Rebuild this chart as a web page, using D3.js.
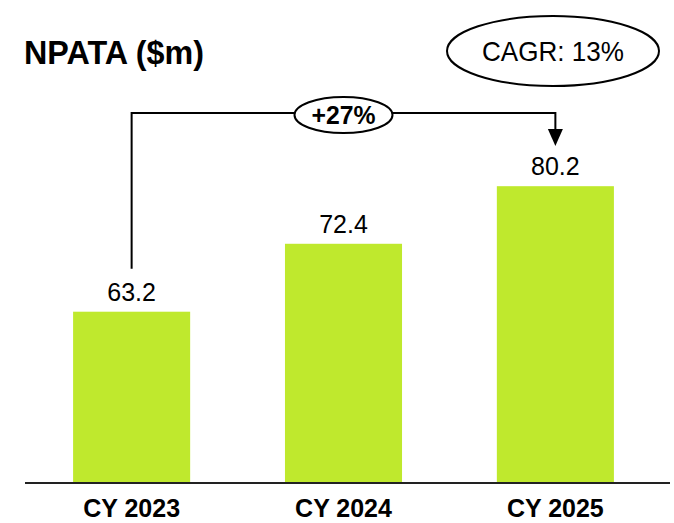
<!DOCTYPE html>
<html>
<head>
<meta charset="utf-8">
<script src="https://cdn.jsdelivr.net/npm/d3@7"></script>
<style>
  body { margin: 0; background: #fff; }
  text { font-family: Arial, "Liberation Sans", sans-serif; fill: #000; }
</style>
</head>
<body>
<div id="chart"></div>
<script>
// Data
var categories = ['CY 2023', 'CY 2024', 'CY 2025'];
var values = [63.2, 72.4, 80.2];
var title = 'NPATA ($m)';
var cagrLabel = 'CAGR: 13%';
var growthLabel = '+27%';

var width = 674, height = 523;
var baseY = 483;

var svg = d3.select('#chart').append('svg')
  .attr('width', width)
  .attr('height', height);

// Scales (value axis does not start at zero)
var x = d3.scaleBand()
  .domain(categories)
  .range([25, 662])
  .paddingInner(0.4475)
  .paddingOuter(0.227);

var y = d3.scaleLinear()
  .domain([40, 100])
  .range([baseY, 40]);

// Title (narrow, tall lettering)
svg.append('text')
  .attr('x', 24)
  .attr('y', 64)
  .attr('textLength', 180)
  .attr('lengthAdjust', 'spacingAndGlyphs')
  .style('font-size', '33px')
  .style('font-weight', 'bold')
  .text(title);

// Bars
svg.selectAll('.bar')
  .data(values)
  .enter()
  .append('rect')
  .attr('class', 'bar')
  .attr('x', function(d, i) { return x(categories[i]); })
  .attr('y', function(d) { return y(d); })
  .attr('width', x.bandwidth())
  .attr('height', function(d) { return baseY - y(d); })
  .style('fill', '#bfe92d');

// Value labels
svg.selectAll('.val')
  .data(values)
  .enter()
  .append('text')
  .attr('class', 'val')
  .attr('x', function(d, i) { return x(categories[i]) + x.bandwidth() / 2; })
  .attr('y', function(d) { return y(d) - 11; })
  .attr('text-anchor', 'middle')
  .style('font-size', '25px')
  .text(function(d) { return d.toFixed(1); });

// Baseline
svg.append('line')
  .attr('x1', 25)
  .attr('x2', 670)
  .attr('y1', baseY)
  .attr('y2', baseY)
  .style('stroke', '#222')
  .style('stroke-width', 2);

// Category labels
svg.selectAll('.cat')
  .data(categories)
  .enter()
  .append('text')
  .attr('class', 'cat')
  .attr('x', function(d) { return x(d) + x.bandwidth() / 2; })
  .attr('y', 517)
  .attr('text-anchor', 'middle')
  .style('font-size', '25px')
  .style('font-weight', 'bold')
  .text(function(d) { return d; });

// Growth bracket from first to last bar
var x0 = x(categories[0]) + x.bandwidth() / 2;
var x2 = x(categories[2]) + x.bandwidth() / 2;
var topY = 113;
svg.append('path')
  .attr('d', 'M' + x0 + ',' + (y(values[0]) - 43) + 'V' + topY + 'H' + x2 + 'V' + 131)
  .style('fill', 'none')
  .style('stroke', '#000')
  .style('stroke-width', 2);

svg.append('path')
  .attr('d', 'M' + (x2 - 7.5) + ',129L' + (x2 + 7.5) + ',129L' + x2 + ',146Z')
  .style('fill', '#000');

var gx = (x0 + x2) / 2;
svg.append('ellipse')
  .attr('cx', gx)
  .attr('cy', 115)
  .attr('rx', 49)
  .attr('ry', 18)
  .style('fill', '#fff')
  .style('stroke', '#000')
  .style('stroke-width', 2);

svg.append('text')
  .attr('x', gx)
  .attr('y', 124)
  .attr('text-anchor', 'middle')
  .attr('textLength', 64)
  .attr('lengthAdjust', 'spacingAndGlyphs')
  .style('font-size', '25px')
  .style('font-weight', 'bold')
  .text(growthLabel);

// CAGR bubble
svg.append('ellipse')
  .attr('cx', 553)
  .attr('cy', 51)
  .attr('rx', 106)
  .attr('ry', 35)
  .style('fill', '#fff')
  .style('stroke', '#000')
  .style('stroke-width', 2);

svg.append('text')
  .attr('x', 553)
  .attr('y', 61)
  .attr('text-anchor', 'middle')
  .attr('textLength', 142)
  .attr('lengthAdjust', 'spacingAndGlyphs')
  .style('font-size', '28px')
  .text(cagrLabel);
</script>
</body>
</html>
